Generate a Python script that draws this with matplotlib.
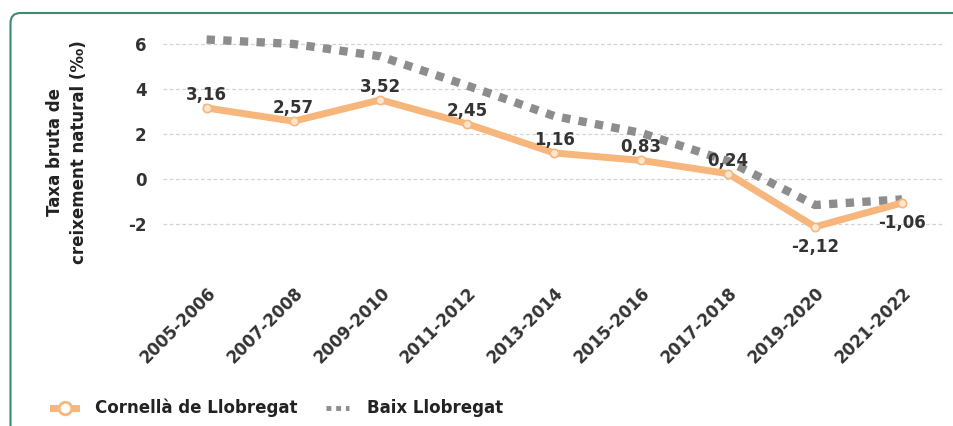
import matplotlib
matplotlib.use("Agg")
import matplotlib.pyplot as plt
from matplotlib.patches import FancyBboxPatch
from matplotlib.lines import Line2D

periods = ["2005-2006", "2007-2008", "2009-2010", "2011-2012", "2013-2014",
           "2015-2016", "2017-2018", "2019-2020", "2021-2022"]
cornella = [3.16, 2.57, 3.52, 2.45, 1.16, 0.83, 0.24, -2.12, -1.06]
baix = [6.2, 6.0, 5.45, 4.15, 2.8, 2.05, 0.8, -1.15, -0.9]
labels_c = ["3,16", "2,57", "3,52", "2,45", "1,16", "0,83", "0,24", "-2,12", "-1,06"]
yticks = [-2, 0, 2, 4, 6]

ORANGE = "#f6b67c"
GRAY = "#8d8d8d"
TEXT = "#333333"

plt.rcParams['font.family'] = ['DejaVu Sans']
plt.rcParams['font.weight'] = 'bold'

fig = plt.figure(figsize=(9.54, 4.26), dpi=100)
ax = fig.add_axes([0.171, 0.421, 0.820, 0.518])

x = list(range(len(periods)))
ax.plot(x, baix, color=GRAY, lw=6, linestyle=(0, (1, 1)), dash_capstyle='butt',
        solid_capstyle='butt', zorder=2)
ax.plot(x, cornella, color=ORANGE, lw=5, marker='o', markersize=6,
        markerfacecolor='#fde6cf', markeredgecolor=ORANGE, markeredgewidth=1.2,
        solid_joinstyle='round', zorder=3)

for i, (v, lab) in enumerate(zip(cornella, labels_c)):
    if i >= 7:
        ax.annotate(lab, (i, v), xytext=(0, -8), textcoords='offset points',
                    ha='center', va='top', fontsize=12, fontweight='bold',
                    color=TEXT, zorder=5)
    else:
        ax.annotate(lab, (i, v), xytext=(0, 3), textcoords='offset points',
                    ha='center', va='bottom', fontsize=12, fontweight='bold',
                    color=TEXT, zorder=5)

ax.set_xlim(-0.5, 8.5)
ax.set_ylim(-3, 6.8)
ax.set_yticks(yticks)
ax.set_yticklabels([str(t) for t in yticks], fontsize=12, fontweight='bold', color=TEXT)
ax.set_xticks(x)
ax.set_xticklabels(periods, rotation=45, ha='right', rotation_mode='anchor',
                   fontsize=12, fontweight='bold', color=TEXT)
ax.tick_params(axis='x', length=0, pad=27)
ax.tick_params(axis='y', length=0, pad=12)
for s in ax.spines.values():
    s.set_visible(False)
ax.grid(axis='y', color='#d4d4d4', linestyle=(0, (3, 2)), lw=0.9)
ax.set_axisbelow(True)

fig.text(0.070, 0.643, "Taxa bruta de\ncreixement natural (‰)", rotation=90,
         ha='center', va='center', fontsize=12, fontweight='bold', color='#222222',
         linespacing=1.4)

handles = [
    Line2D([], [], color=ORANGE, lw=5, marker='o', markersize=9,
           markerfacecolor='white', markeredgecolor=ORANGE, markeredgewidth=2),
    Line2D([], [], color=GRAY, lw=3.5, linestyle=(0, (1, 1)), dash_capstyle='butt'),
]
fig.legend(handles, ["Cornellà de Llobregat", "Baix Llobregat"], loc='center left',
           bbox_to_anchor=(0.040, 0.042), ncol=2, frameon=False,
           handlelength=1.4, handletextpad=1.1, columnspacing=1.7,
           labelcolor='#222222', prop={'weight': 'bold', 'size': 12})

border = FancyBboxPatch((10.5, -60), 1000, 473, boxstyle="round,pad=0,rounding_size=10",
                        transform=None, fill=False, edgecolor='#3d8a6e', lw=1.5,
                        clip_on=False)
fig.patches.append(border)

fig.savefig("out.png", dpi=100)
